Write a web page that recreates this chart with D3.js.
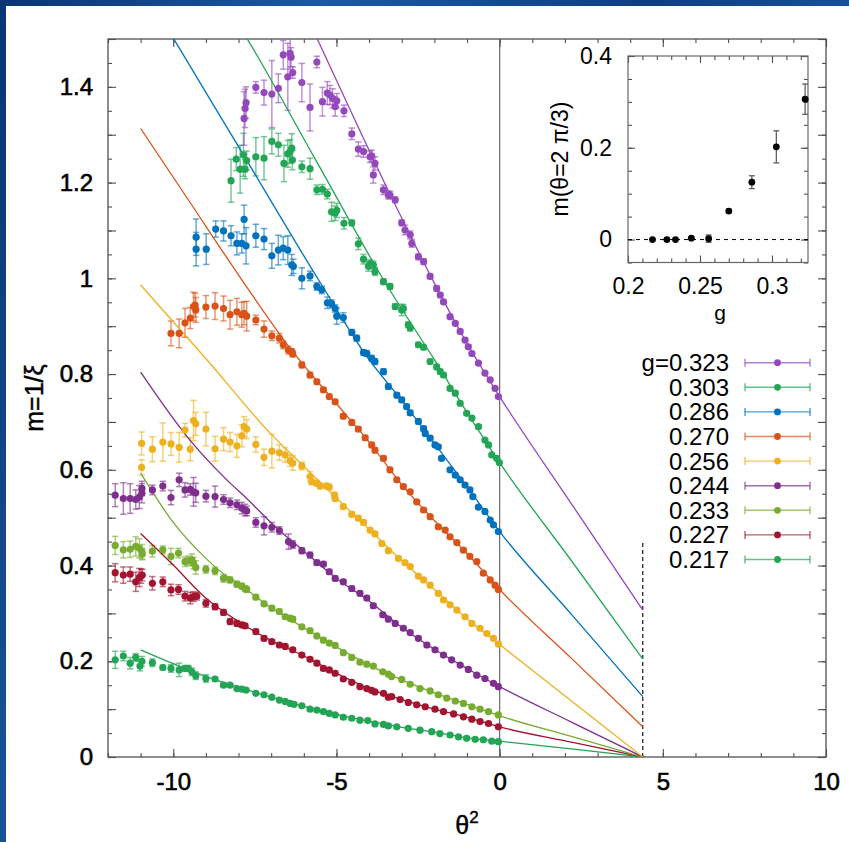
<!DOCTYPE html>
<html>
<head>
<meta charset="utf-8">
<script src="https://cdn.jsdelivr.net/npm/d3@7"></script>
<style>
  html, body { margin: 0; padding: 0; background: #0d3b7a; }
  svg { display: block; }
  text { font-family: "Liberation Sans", Arial, Helvetica, sans-serif; }
</style>
</head>
<body>
<svg id="chart" width="849" height="842"></svg>
<script>
// ---- data: [theta^2, m, error] ----
const s323 = [[-7.83,1.334,0.056],[-7.80,1.355,0.04],[-7.77,1.367,0.033],[-7.47,1.399,0.012],[-7.22,1.388,0.026],[-6.98,1.385,0.07],[-6.78,1.397,0.03],[-6.63,1.467,0.03],[-6.49,1.421,0.07],[-6.42,1.470,0.033],[-6.39,1.462,0.02],[-6.34,1.430,0.012],[-6.06,1.409,0.04],[-5.81,1.357,0.049],[-5.60,1.452,0.012],[-5.43,1.369,0.03],[-5.28,1.387,0.024],[-5.20,1.383,0.02],[-5.12,1.376,0.02],[-5.04,1.359,0.02],[-4.99,1.371,0.015],[-4.77,1.350,0.012],[-4.53,1.302,0.012],[-4.33,1.270,0.015],[-4.17,1.265,0.012],[-3.97,1.254,0.012],[-3.92,1.256,0.012],[-3.87,1.216,0.017],[-3.82,1.240,0.014],[-3.56,1.185,0.01],[-3.41,1.174,0.008],[-3.36,1.174,0.008],[-3.20,1.164,0.006],[-3.00,1.116,0.006],[-2.90,1.101,0.01],[-2.74,1.091,0.008],[-2.69,1.073,0.008],[-2.49,1.045,0.006],[-2.33,1.035,0.006],[-2.13,1.004,0.005],[-1.93,0.979,0.005],[-1.82,0.965,0.005],[-1.72,0.951,0.004],[-1.52,0.920,0.004],[-1.36,0.906,0.004],[-1.21,0.889,0.004],[-1.06,0.871,0.004],[-0.96,0.857,0.004],[-0.85,0.843,0.004],[-0.65,0.823,0.003],[-0.45,0.802,0.003],[-0.29,0.788,0.003],[-0.14,0.770,0.003],[-0.04,0.753,0.003]];
const s303 = [[-8.23,1.204,0.045],[-8.07,1.249,0.024],[-7.95,1.228,0.05],[-7.85,1.258,0.045],[-7.80,1.228,0.02],[-7.75,1.246,0.02],[-7.47,1.254,0.04],[-7.22,1.251,0.045],[-6.98,1.286,0.026],[-6.78,1.279,0.024],[-6.61,1.240,0.038],[-6.49,1.260,0.028],[-6.42,1.265,0.025],[-6.37,1.272,0.03],[-6.35,1.247,0.02],[-6.06,1.233,0.012],[-5.81,1.229,0.022],[-5.60,1.185,0.01],[-5.43,1.186,0.01],[-5.28,1.176,0.01],[-5.15,1.139,0.02],[-5.04,1.136,0.015],[-4.99,1.142,0.015],[-4.77,1.115,0.012],[-4.53,1.116,0.006],[-4.33,1.072,0.012],[-4.17,1.040,0.01],[-4.02,1.025,0.01],[-3.97,1.031,0.008],[-3.87,1.028,0.008],[-3.82,1.014,0.008],[-3.56,0.993,0.006],[-3.36,0.983,0.006],[-3.20,0.941,0.006],[-3.00,0.934,0.012],[-2.95,0.937,0.008],[-2.80,0.903,0.006],[-2.74,0.896,0.006],[-2.49,0.861,0.005],[-2.33,0.856,0.005],[-2.13,0.826,0.005],[-1.93,0.815,0.005],[-1.82,0.805,0.005],[-1.72,0.798,0.005],[-1.52,0.770,0.004],[-1.36,0.760,0.004],[-1.21,0.739,0.004],[-1.01,0.718,0.004],[-0.85,0.708,0.004],[-0.65,0.690,0.004],[-0.45,0.662,0.003],[-0.34,0.652,0.003],[-0.24,0.631,0.003],[-0.09,0.624,0.003],[-0.01,0.615,0.003]];
const s286 = [[-9.30,1.086,0.038],[-9.30,1.061,0.035],[-8.99,1.061,0.032],[-8.70,1.103,0.017],[-8.46,1.099,0.021],[-8.23,1.089,0.021],[-8.05,1.073,0.024],[-7.90,1.073,0.02],[-7.83,1.123,0.03],[-7.77,1.068,0.038],[-7.47,1.089,0.024],[-7.22,1.082,0.022],[-6.98,1.047,0.026],[-6.78,1.059,0.031],[-6.63,1.063,0.024],[-6.49,1.059,0.03],[-6.37,1.028,0.022],[-6.32,1.025,0.015],[-6.06,1.000,0.022],[-5.81,1.005,0.01],[-5.60,0.983,0.008],[-5.45,0.976,0.008],[-5.28,0.949,0.012],[-5.15,0.947,0.008],[-5.04,0.937,0.008],[-4.99,0.921,0.017],[-4.79,0.918,0.01],[-4.53,0.887,0.006],[-4.38,0.875,0.006],[-4.17,0.845,0.006],[-4.07,0.843,0.006],[-3.92,0.833,0.006],[-3.82,0.826,0.006],[-3.56,0.805,0.006],[-3.41,0.774,0.006],[-3.15,0.756,0.005],[-3.00,0.746,0.005],[-2.85,0.732,0.005],[-2.74,0.719,0.005],[-2.49,0.701,0.005],[-2.33,0.686,0.005],[-2.28,0.676,0.005],[-2.13,0.666,0.005],[-1.98,0.652,0.004],[-1.88,0.648,0.004],[-1.78,0.624,0.004],[-1.52,0.600,0.004],[-1.36,0.589,0.004],[-1.21,0.579,0.004],[-1.06,0.568,0.004],[-0.91,0.558,0.004],[-0.82,0.544,0.004],[-0.65,0.522,0.003],[-0.45,0.513,0.003],[-0.29,0.495,0.003],[-0.19,0.485,0.003],[-0.04,0.471,0.003]];
const s270 = [[-10.07,0.885,0.026],[-9.82,0.885,0.03],[-9.64,0.907,0.03],[-9.48,0.917,0.022],[-9.38,0.941,0.03],[-9.33,0.944,0.025],[-9.31,0.934,0.026],[-9.00,0.940,0.024],[-8.72,0.942,0.028],[-8.46,0.937,0.026],[-8.26,0.924,0.03],[-8.05,0.930,0.028],[-7.90,0.924,0.026],[-7.83,0.927,0.024],[-7.75,0.921,0.031],[-7.47,0.913,0.01],[-7.22,0.894,0.017],[-6.98,0.880,0.01],[-6.75,0.875,0.01],[-6.63,0.861,0.008],[-6.47,0.850,0.008],[-6.37,0.847,0.006],[-6.34,0.842,0.006],[-6.06,0.819,0.006],[-5.81,0.798,0.006],[-5.60,0.784,0.005],[-5.40,0.767,0.005],[-5.22,0.753,0.005],[-5.04,0.742,0.005],[-4.79,0.712,0.005],[-4.53,0.699,0.005],[-4.33,0.685,0.005],[-4.12,0.667,0.005],[-3.92,0.652,0.005],[-3.82,0.641,0.005],[-3.56,0.624,0.005],[-3.36,0.600,0.005],[-3.15,0.579,0.004],[-2.95,0.565,0.004],[-2.74,0.554,0.004],[-2.54,0.533,0.004],[-2.33,0.516,0.004],[-2.13,0.502,0.004],[-1.88,0.481,0.004],[-1.67,0.474,0.004],[-1.52,0.460,0.004],[-1.31,0.448,0.003],[-1.11,0.432,0.003],[-0.91,0.419,0.003],[-0.70,0.408,0.003],[-0.50,0.384,0.003],[-0.29,0.370,0.003],[-0.14,0.359,0.003],[-0.04,0.350,0.003]];
const s256 = [[-10.97,0.655,0.024],[-10.97,0.605,0.016],[-10.64,0.643,0.026],[-10.32,0.658,0.04],[-10.07,0.654,0.024],[-9.82,0.647,0.031],[-9.64,0.683,0.014],[-9.48,0.643,0.024],[-9.38,0.703,0.042],[-9.31,0.696,0.024],[-9.00,0.685,0.035],[-8.72,0.644,0.026],[-8.46,0.664,0.024],[-8.26,0.658,0.02],[-8.05,0.650,0.024],[-7.90,0.671,0.023],[-7.83,0.690,0.021],[-7.75,0.685,0.02],[-7.47,0.653,0.016],[-7.22,0.626,0.017],[-6.98,0.639,0.035],[-6.75,0.636,0.016],[-6.57,0.631,0.015],[-6.42,0.619,0.012],[-6.34,0.614,0.015],[-6.06,0.608,0.008],[-5.81,0.586,0.01],[-5.76,0.575,0.006],[-5.60,0.572,0.006],[-5.50,0.566,0.006],[-5.30,0.566,0.006],[-5.22,0.564,0.006],[-5.06,0.547,0.006],[-5.04,0.540,0.006],[-4.79,0.523,0.005],[-4.53,0.507,0.005],[-4.33,0.499,0.005],[-4.17,0.490,0.005],[-3.97,0.474,0.005],[-3.82,0.466,0.005],[-3.61,0.446,0.005],[-3.41,0.431,0.005],[-3.10,0.415,0.004],[-2.90,0.406,0.004],[-2.74,0.398,0.004],[-2.49,0.378,0.004],[-2.33,0.370,0.004],[-2.13,0.359,0.004],[-1.88,0.342,0.004],[-1.72,0.328,0.004],[-1.52,0.318,0.003],[-1.31,0.307,0.003],[-1.06,0.293,0.003],[-0.85,0.279,0.003],[-0.60,0.269,0.003],[-0.39,0.258,0.003],[-0.19,0.248,0.003],[-0.04,0.236,0.003]];
const s244 = [[-11.78,0.547,0.024],[-11.53,0.540,0.033],[-11.32,0.540,0.031],[-11.15,0.538,0.02],[-11.04,0.543,0.024],[-10.96,0.551,0.02],[-10.96,0.561,0.015],[-10.64,0.558,0.01],[-10.32,0.566,0.01],[-10.07,0.542,0.015],[-9.82,0.579,0.014],[-9.64,0.558,0.015],[-9.48,0.559,0.012],[-9.38,0.554,0.03],[-9.31,0.552,0.02],[-9.00,0.545,0.012],[-8.72,0.544,0.022],[-8.46,0.538,0.01],[-8.26,0.531,0.01],[-8.05,0.527,0.01],[-7.90,0.520,0.012],[-7.80,0.516,0.012],[-7.75,0.514,0.01],[-7.47,0.490,0.01],[-7.22,0.483,0.019],[-6.98,0.480,0.01],[-6.75,0.473,0.008],[-6.47,0.450,0.016],[-6.34,0.444,0.008],[-6.06,0.431,0.006],[-5.81,0.422,0.006],[-5.60,0.406,0.005],[-5.40,0.403,0.005],[-5.22,0.387,0.005],[-5.04,0.373,0.005],[-4.79,0.366,0.005],[-4.53,0.352,0.005],[-4.28,0.342,0.005],[-4.07,0.332,0.005],[-3.87,0.316,0.005],[-3.58,0.297,0.005],[-3.41,0.288,0.004],[-3.20,0.279,0.004],[-2.95,0.269,0.004],[-2.74,0.260,0.004],[-2.49,0.248,0.004],[-2.23,0.234,0.004],[-1.98,0.224,0.004],[-1.72,0.213,0.003],[-1.47,0.203,0.003],[-1.21,0.192,0.003],[-0.96,0.183,0.003],[-0.70,0.171,0.003],[-0.45,0.164,0.003],[-0.19,0.154,0.003],[-0.04,0.147,0.003]];
const s233 = [[-11.78,0.442,0.019],[-11.53,0.433,0.017],[-11.32,0.434,0.017],[-11.15,0.440,0.02],[-11.04,0.436,0.02],[-10.96,0.429,0.015],[-10.95,0.424,0.012],[-10.64,0.430,0.012],[-10.32,0.433,0.008],[-10.07,0.419,0.017],[-9.84,0.426,0.01],[-9.64,0.408,0.01],[-9.54,0.410,0.01],[-9.43,0.412,0.012],[-9.38,0.405,0.012],[-9.31,0.396,0.014],[-9.00,0.392,0.008],[-8.72,0.389,0.008],[-8.46,0.373,0.008],[-8.26,0.370,0.006],[-8.05,0.361,0.006],[-7.90,0.357,0.006],[-7.80,0.352,0.006],[-7.75,0.350,0.006],[-7.47,0.334,0.005],[-7.22,0.320,0.005],[-6.98,0.311,0.005],[-6.75,0.304,0.005],[-6.57,0.293,0.005],[-6.42,0.290,0.005],[-6.34,0.288,0.005],[-6.06,0.272,0.004],[-5.81,0.264,0.004],[-5.60,0.253,0.004],[-5.40,0.244,0.004],[-5.22,0.238,0.004],[-5.04,0.233,0.004],[-4.79,0.218,0.004],[-4.53,0.208,0.004],[-4.28,0.198,0.004],[-4.07,0.194,0.004],[-3.87,0.190,0.004],[-3.58,0.178,0.003],[-3.41,0.173,0.003],[-3.31,0.168,0.003],[-3.00,0.162,0.003],[-2.74,0.152,0.003],[-2.44,0.143,0.003],[-2.13,0.138,0.003],[-1.88,0.130,0.003],[-1.62,0.123,0.003],[-1.36,0.117,0.003],[-1.11,0.112,0.003],[-0.85,0.105,0.003],[-0.60,0.100,0.003],[-0.34,0.095,0.003],[-0.04,0.088,0.003]];
const s227 = [[-11.78,0.385,0.019],[-11.53,0.380,0.017],[-11.32,0.382,0.015],[-11.15,0.366,0.02],[-11.04,0.375,0.019],[-10.99,0.378,0.015],[-10.95,0.380,0.012],[-10.64,0.363,0.014],[-10.32,0.366,0.01],[-10.07,0.349,0.012],[-9.84,0.350,0.01],[-9.64,0.336,0.01],[-9.48,0.332,0.012],[-9.38,0.335,0.01],[-9.28,0.336,0.008],[-9.00,0.321,0.008],[-8.72,0.314,0.006],[-8.46,0.302,0.006],[-8.26,0.283,0.006],[-8.05,0.279,0.006],[-7.90,0.276,0.005],[-7.80,0.274,0.005],[-7.47,0.262,0.005],[-7.22,0.248,0.005],[-6.98,0.241,0.004],[-6.75,0.234,0.004],[-6.57,0.231,0.004],[-6.34,0.224,0.004],[-6.06,0.213,0.004],[-5.81,0.204,0.004],[-5.60,0.196,0.004],[-5.40,0.185,0.004],[-5.22,0.182,0.004],[-5.04,0.175,0.004],[-4.79,0.163,0.003],[-4.53,0.156,0.003],[-4.28,0.147,0.003],[-4.07,0.143,0.003],[-3.92,0.139,0.003],[-3.82,0.136,0.003],[-3.56,0.133,0.003],[-3.41,0.125,0.003],[-3.31,0.126,0.003],[-3.05,0.120,0.003],[-2.80,0.114,0.003],[-2.54,0.109,0.003],[-2.28,0.105,0.003],[-1.98,0.100,0.003],[-1.72,0.095,0.003],[-1.41,0.090,0.003],[-1.11,0.084,0.003],[-0.85,0.079,0.003],[-0.60,0.074,0.003],[-0.34,0.070,0.003],[-0.04,0.063,0.003]];
const s217 = [[-11.78,0.203,0.018],[-11.53,0.211,0.01],[-11.32,0.196,0.012],[-11.15,0.208,0.008],[-11.02,0.190,0.01],[-10.96,0.200,0.01],[-10.64,0.197,0.008],[-10.32,0.187,0.005],[-10.07,0.185,0.008],[-9.82,0.182,0.014],[-9.64,0.185,0.006],[-9.54,0.185,0.006],[-9.43,0.178,0.008],[-9.31,0.170,0.008],[-9.00,0.164,0.008],[-8.72,0.163,0.004],[-8.46,0.150,0.004],[-8.26,0.150,0.003],[-8.05,0.143,0.003],[-7.90,0.142,0.003],[-7.77,0.140,0.003],[-7.47,0.133,0.003],[-7.22,0.130,0.003],[-6.98,0.125,0.003],[-6.75,0.119,0.003],[-6.57,0.116,0.003],[-6.42,0.112,0.003],[-6.30,0.110,0.003],[-6.06,0.107,0.003],[-5.81,0.100,0.003],[-5.60,0.098,0.003],[-5.40,0.095,0.003],[-5.22,0.091,0.003],[-5.04,0.088,0.003],[-4.79,0.083,0.003],[-4.53,0.081,0.003],[-4.28,0.077,0.003],[-4.04,0.076,0.003],[-3.82,0.069,0.003],[-3.56,0.068,0.003],[-3.41,0.065,0.003],[-3.15,0.063,0.003],[-2.80,0.060,0.003],[-2.44,0.056,0.003],[-2.08,0.053,0.003],[-1.83,0.049,0.003],[-1.52,0.046,0.003],[-1.26,0.042,0.003],[-1.01,0.039,0.003],[-0.75,0.037,0.003],[-0.50,0.036,0.003],[-0.24,0.033,0.003],[-0.04,0.032,0.003]];

// fit curves [theta^2, m]
const fit323 = [[-6.2,1.59],[-5.6,1.502],[-3.36,1.176],[-2,0.99],[-1,0.864],[0,0.753],[2.2,0.529],[4.386,0.307]];
const fit303 = [[-8.0,1.53],[-7.75,1.502],[-5.65,1.249],[-3.56,0.997],[-2,0.83],[-1,0.72],[0,0.615],[2.2,0.41],[4.386,0.205]];
const fit286 = [[-10.5,1.56],[-10,1.502],[-8.06,1.282],[-5.55,0.997],[-4,0.83],[-3,0.745],[-2,0.655],[-1,0.565],[0,0.471],[2.2,0.298],[4.386,0.126]];
const fit270 = [[-11,1.313],[-9.5,1.16],[-7.9,0.997],[-6.42,0.854],[-5,0.738],[-4,0.658],[-3,0.569],[-2,0.494],[-1,0.425],[0,0.350],[2.2,0.206],[4.386,0.063]];
const fit256 = [[-11,0.986],[-8.97,0.830],[-6.98,0.673],[-6.21,0.621],[-5,0.541],[-4,0.476],[-3,0.41],[-2,0.35],[-1,0.289],[0,0.235],[2.2,0.117],[4.386,0.0]];
const fit244 = [[-11,0.804],[-9.49,0.662],[-8.36,0.579],[-7.75,0.540],[-6.98,0.488],[-6,0.43],[-5,0.373],[-4,0.326],[-3,0.271],[-2,0.225],[-1,0.185],[0,0.147],[2.2,0.073],[4.386,0]];
const fit233 = [[-11,0.593],[-10,0.49],[-9,0.415],[-8.5,0.385],[-8,0.362],[-7,0.312],[-6,0.27],[-5,0.230],[-4,0.192],[-3,0.161],[-2,0.134],[-1,0.110],[0,0.086],[2.2,0.043],[4.386,0]];
const fit227 = [[-11,0.467],[-10,0.401],[-9.05,0.335],[-8,0.283],[-7,0.243],[-6,0.211],[-5,0.175],[-4,0.143],[-3,0.120],[-2,0.100],[-1,0.083],[0,0.063],[2.2,0.031],[4.386,0]];
const fit217 = [[-11,0.224],[-10,0.195],[-9,0.168],[-8,0.146],[-7,0.125],[-6,0.106],[-5,0.089],[-4,0.075],[-3,0.062],[-2,0.052],[-1,0.040],[0,0.033],[2.2,0.017],[4.386,0]];

const gLabels = ["g=0.323","0.303","0.286","0.270","0.256","0.244","0.233","0.227","0.217"];
const seriesColors = ["#9448bc","#23a556","#0072bd","#d95319","#edb120","#7e2f8e","#77ac30","#a2142f","#23a556"];
const seriesPoints = [s323, s303, s286, s270, s256, s244, s233, s227, s217];
const seriesFits = [fit323, fit303, fit286, fit270, fit256, fit244, fit233, fit227, fit217];

// inset: m(theta = 2pi/3) vs g
const insetG = [0.217, 0.227, 0.233, 0.244, 0.256, 0.270, 0.286, 0.303, 0.323];
const insetM = [0.0, 0.0, 0.0, 0.003, 0.002, 0.062, 0.125, 0.202, 0.306];
const insetErr = [0.001, 0.001, 0.001, 0.002, 0.008, 0.004, 0.014, 0.035, 0.033];

const xMajor = [-10, -5, 0, 5, 10];
const xMinor = d3.range(-12, 11, 1);
const yMajor = [0, 0.2, 0.4, 0.6, 0.8, 1, 1.2, 1.4];
const yMid = d3.range(0, 1.51, 0.1);
const yMinor = d3.range(0, 1.51, 0.05);
const insetXLabels = [0.2, 0.25, 0.3];
const insetXMinor = d3.range(0.2, 0.3251, 0.01);
const insetYLabels = [0, 0.2, 0.4];
const insetYMinor = d3.range(-0.05, 0.401, 0.05);

const thetaC2 = 4.386; // (2 pi / 3)^2

// ---- drawing ----
const svg = d3.select("#chart");
const W = 849, H = 842;
const font = "'Liberation Sans', Arial, Helvetica, sans-serif";

const defs = svg.append("defs");
const grad = defs.append("linearGradient").attr("id", "bg")
  .attr("x1", "0").attr("y1", "0").attr("x2", "1").attr("y2", "0.3");
grad.append("stop").attr("offset", "0%").attr("stop-color", "#0a3573");
grad.append("stop").attr("offset", "35%").attr("stop-color", "#1b5aa3");
grad.append("stop").attr("offset", "70%").attr("stop-color", "#0d3f82");
grad.append("stop").attr("offset", "100%").attr("stop-color", "#1a579f");
svg.append("rect").attr("width", W).attr("height", H).attr("fill", "url(#bg)");
svg.append("rect").attr("x", 6).attr("y", 6).attr("width", W - 6).attr("height", H - 6).attr("fill", "#fff");

const x = d3.scaleLinear().domain([-12, 10]).range([108, 826]);
const y = d3.scaleLinear().domain([0, 1.5]).range([757, 39]);

defs.append("clipPath").attr("id", "plotClip")
  .append("rect").attr("x", 108).attr("y", 39).attr("width", 718).attr("height", 718);

const axisColor = "#505050";

function styleAxis(g, size, heavy) {
  g.attr("font-family", font).attr("font-size", size).attr("color", axisColor);
  g.select(".domain").remove();
  g.selectAll("text").attr("fill", "#000");
  if (heavy) g.selectAll("text").attr("stroke", "#000").attr("stroke-width", 0.6);
  g.selectAll("line").attr("stroke-width", 1.1);
}

// minor and major ticks, all pointing into the frame
svg.append("g").attr("transform", "translate(0,757)")
  .call(d3.axisBottom(x).tickValues(xMinor).tickSize(-4).tickFormat(""))
  .call(g => styleAxis(g, 24));
svg.append("g").attr("transform", "translate(0,39)")
  .call(d3.axisTop(x).tickValues(xMinor).tickSize(-4).tickFormat(""))
  .call(g => styleAxis(g, 24));
svg.append("g").attr("transform", "translate(0,757)")
  .call(d3.axisBottom(x).tickValues(xMajor).tickSize(-8).tickPadding(16).tickFormat(d => String(d)))
  .call(g => styleAxis(g, 24, true));
svg.append("g").attr("transform", "translate(0,39)")
  .call(d3.axisTop(x).tickValues(xMajor).tickSize(-8).tickFormat(""))
  .call(g => styleAxis(g, 24));

svg.append("g").attr("transform", "translate(108,0)")
  .call(d3.axisLeft(y).tickValues(yMinor).tickSize(-4).tickFormat(""))
  .call(g => styleAxis(g, 24));
svg.append("g").attr("transform", "translate(826,0)")
  .call(d3.axisRight(y).tickValues(yMinor).tickSize(-4).tickFormat(""))
  .call(g => styleAxis(g, 24));
svg.append("g").attr("transform", "translate(108,0)")
  .call(d3.axisLeft(y).tickValues(yMid).tickSize(-8).tickFormat(""))
  .call(g => styleAxis(g, 24));
svg.append("g").attr("transform", "translate(826,0)")
  .call(d3.axisRight(y).tickValues(yMid).tickSize(-8).tickFormat(""))
  .call(g => styleAxis(g, 24));
svg.append("g").attr("transform", "translate(108,0)")
  .call(d3.axisLeft(y).tickValues(yMajor).tickSize(0).tickPadding(15).tickFormat(d => String(+d.toFixed(1))))
  .call(g => styleAxis(g, 24, true));

svg.append("rect").attr("x", 108).attr("y", 39).attr("width", 718).attr("height", 718)
  .attr("fill", "none").attr("stroke", axisColor).attr("stroke-width", 1.3);

// theta^2 = 0 line and the 2pi/3 marker
svg.append("line").attr("x1", x(0)).attr("x2", x(0)).attr("y1", y(0)).attr("y2", y(1.5))
  .attr("stroke", "#6a6a6a").attr("stroke-width", 1.2);
svg.append("line").attr("x1", x(thetaC2)).attr("x2", x(thetaC2)).attr("y1", y(0)).attr("y2", y(0.45))
  .attr("stroke", "#000").attr("stroke-width", 1.1).attr("stroke-dasharray", "4,3");

const plot = svg.append("g").attr("clip-path", "url(#plotClip)");
const line = d3.line().x(d => x(d[0])).y(d => y(d[1])).curve(d3.curveMonotoneX);

// error bars, fit curves, then points; lowest series first
const order = d3.range(seriesPoints.length).reverse();
order.forEach(i => {
  const c = seriesColors[i];
  const eb = plot.append("g").attr("stroke", c).attr("stroke-opacity", 0.6).attr("stroke-width", 1.5);
  seriesPoints[i].forEach(p => {
    const xp = x(p[0]), y1 = y(p[1] - p[2]), y2 = y(p[1] + p[2]);
    eb.append("line").attr("x1", xp).attr("x2", xp).attr("y1", y1).attr("y2", y2);
    eb.append("line").attr("x1", xp - 3.2).attr("x2", xp + 3.2).attr("y1", y1).attr("y2", y1);
    eb.append("line").attr("x1", xp - 3.2).attr("x2", xp + 3.2).attr("y1", y2).attr("y2", y2);
  });
});
order.forEach(i => {
  plot.append("path").datum(seriesFits[i]).attr("d", line)
    .attr("fill", "none").attr("stroke", seriesColors[i]).attr("stroke-width", 1.3);
});
order.forEach(i => {
  plot.append("g").selectAll("circle").data(seriesPoints[i]).join("circle")
    .attr("cx", d => x(d[0])).attr("cy", d => y(d[1])).attr("r", 3.6)
    .attr("fill", seriesColors[i]);
});

// axis titles
svg.append("text").attr("transform", `translate(43,${(39 + 757) / 2}) rotate(-90)`)
  .attr("text-anchor", "middle").attr("font-family", font).attr("font-size", 25)
  .attr("stroke", "#000").attr("stroke-width", 0.4).text("m=1/ξ");
const xt = svg.append("text").attr("x", 467).attr("y", 834).attr("text-anchor", "middle")
  .attr("font-family", font).attr("font-size", 25).attr("stroke", "#000").attr("stroke-width", 0.4);
xt.append("tspan").text("θ");
xt.append("tspan").attr("font-size", 17).attr("dy", -11).text("2");

// legend
const legY0 = 362.7, legStep = 24.6;
gLabels.forEach((lab, i) => {
  const ly = legY0 + i * legStep;
  const c = seriesColors[i];
  svg.append("text").attr("x", 729).attr("y", ly + 8.5).attr("text-anchor", "end")
    .attr("font-family", font).attr("font-size", 24).text(lab);
  const lg = svg.append("g").attr("stroke", c).attr("stroke-opacity", 0.7).attr("stroke-width", 1.4);
  lg.append("line").attr("x1", 745).attr("x2", 810).attr("y1", ly).attr("y2", ly);
  lg.append("line").attr("x1", 745).attr("x2", 745).attr("y1", ly - 4).attr("y2", ly + 4);
  lg.append("line").attr("x1", 810).attr("x2", 810).attr("y1", ly - 4).attr("y2", ly + 4);
  svg.append("circle").attr("cx", 777.5).attr("cy", ly).attr("r", 3.4).attr("fill", c);
});

// ---- inset ----
const xi = d3.scaleLinear().domain([0.2, 0.325]).range([628, 808]);
const yi = d3.scaleLinear().domain([-0.05, 0.4]).range([262.5, 56]);
svg.append("rect").attr("x", 628).attr("y", 56).attr("width", 180).attr("height", 206.5).attr("fill", "#fff");

svg.append("g").attr("transform", "translate(0,262.5)")
  .call(d3.axisBottom(xi).tickValues(insetXMinor).tickSize(-4).tickFormat(""))
  .call(g => styleAxis(g, 23));
svg.append("g").attr("transform", "translate(0,56)")
  .call(d3.axisTop(xi).tickValues(insetXMinor).tickSize(-4).tickFormat(""))
  .call(g => styleAxis(g, 23));
svg.append("g").attr("transform", "translate(0,262.5)")
  .call(d3.axisBottom(xi).tickValues(insetXLabels).tickSize(-7).tickPadding(15).tickFormat(d => String(d)))
  .call(g => styleAxis(g, 23));
svg.append("g").attr("transform", "translate(0,56)")
  .call(d3.axisTop(xi).tickValues(insetXLabels).tickSize(-7).tickFormat(""))
  .call(g => styleAxis(g, 23));
svg.append("g").attr("transform", "translate(628,0)")
  .call(d3.axisLeft(yi).tickValues(insetYMinor).tickSize(-4).tickFormat(""))
  .call(g => styleAxis(g, 23));
svg.append("g").attr("transform", "translate(808,0)")
  .call(d3.axisRight(yi).tickValues(insetYMinor).tickSize(-4).tickFormat(""))
  .call(g => styleAxis(g, 23));
svg.append("g").attr("transform", "translate(628,0)")
  .call(d3.axisLeft(yi).tickValues(insetYLabels).tickSize(-7).tickPadding(16).tickFormat(d => String(d)))
  .call(g => styleAxis(g, 23));
svg.append("g").attr("transform", "translate(808,0)")
  .call(d3.axisRight(yi).tickValues(insetYLabels).tickSize(-7).tickFormat(""))
  .call(g => styleAxis(g, 23));
svg.append("rect").attr("x", 628).attr("y", 56).attr("width", 180).attr("height", 206.5)
  .attr("fill", "none").attr("stroke", "#666").attr("stroke-width", 1.2);

svg.append("line").attr("x1", 628).attr("x2", 808).attr("y1", yi(0)).attr("y2", yi(0))
  .attr("stroke", "#000").attr("stroke-width", 1).attr("stroke-dasharray", "4,4");

const ie = svg.append("g").attr("stroke", "#555").attr("stroke-width", 1.2);
insetG.forEach((g, i) => {
  const xp = xi(g), y1 = yi(insetM[i] - insetErr[i]), y2 = yi(insetM[i] + insetErr[i]);
  ie.append("line").attr("x1", xp).attr("x2", xp).attr("y1", y1).attr("y2", y2);
  ie.append("line").attr("x1", xp - 3).attr("x2", xp + 3).attr("y1", y1).attr("y2", y1);
  ie.append("line").attr("x1", xp - 3).attr("x2", xp + 3).attr("y1", y2).attr("y2", y2);
});
svg.append("g").selectAll("circle").data(insetG).join("circle")
  .attr("cx", d => xi(d)).attr("cy", (d, i) => yi(insetM[i])).attr("r", 3.4).attr("fill", "#000");

svg.append("text").attr("transform", `translate(568,159) rotate(-90)`)
  .attr("text-anchor", "middle").attr("font-family", font).attr("font-size", 23).text("m(θ=2 π/3)");
svg.append("text").attr("x", 720).attr("y", 320).attr("text-anchor", "middle")
  .attr("font-family", font).attr("font-size", 21).text("g");
</script>
</body>
</html>
